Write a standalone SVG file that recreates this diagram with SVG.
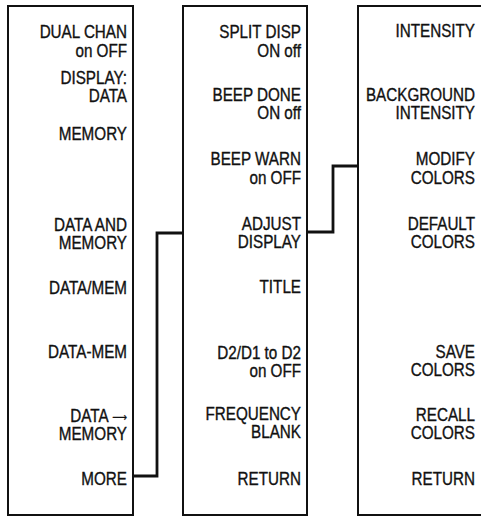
<svg xmlns="http://www.w3.org/2000/svg" width="481" height="518" viewBox="0 0 481 518">
<style>
.panel{fill:#fff;stroke:#111;stroke-width:2}
.lbl{font-family:"Liberation Sans",Arial,sans-serif;font-size:17.5px;fill:#111;stroke:#111;stroke-width:0.35;text-anchor:end}
.arr{font-family:"DejaVu Sans",sans-serif;font-size:12px;stroke-width:0.2}
.conn{fill:none;stroke:#111;stroke-width:2.8;stroke-linejoin:miter}
</style>
<rect x="0" y="0" width="481" height="518" fill="#fff"/>
<g id="panel-main">
<rect class="panel" x="8" y="6" width="125" height="509"/>
<g class="lbl" transform="translate(127,0) scale(0.87,1)">
<text x="0" y="38">DUAL CHAN</text>
<text x="0" y="57">on OFF</text>
<text x="0" y="84">DISPLAY:</text>
<text x="0" y="102">DATA</text>
<text x="0" y="140">MEMORY</text>
<text x="0" y="231">DATA AND</text>
<text x="0" y="249">MEMORY</text>
<text x="0" y="294">DATA/MEM</text>
<text x="0" y="358">DATA-MEM</text>
<text x="0" y="422">DATA <tspan class="arr" dy="-1">⟶</tspan></text>
<text x="0" y="440">MEMORY</text>
<text x="0" y="485">MORE</text>
</g>
</g>
<g id="panel-more">
<rect class="panel" x="183" y="6" width="124" height="509"/>
<g class="lbl" transform="translate(301,0) scale(0.87,1)">
<text x="0" y="38">SPLIT DISP</text>
<text x="0" y="57">ON off</text>
<text x="0" y="101">BEEP DONE</text>
<text x="0" y="119">ON off</text>
<text x="0" y="165">BEEP WARN</text>
<text x="0" y="184">on OFF</text>
<text x="0" y="230">ADJUST</text>
<text x="0" y="248">DISPLAY</text>
<text x="0" y="293">TITLE</text>
<text x="0" y="359">D2/D1 to D2</text>
<text x="0" y="377">on OFF</text>
<text x="0" y="420">FREQUENCY</text>
<text x="0" y="438">BLANK</text>
<text x="0" y="485">RETURN</text>
</g>
</g>
<g id="panel-adjust">
<rect class="panel" x="358" y="6" width="130" height="509"/>
<g class="lbl" transform="translate(475,0) scale(0.87,1)">
<text x="0" y="37">INTENSITY</text>
<text x="0" y="101">BACKGROUND</text>
<text x="0" y="119">INTENSITY</text>
<text x="0" y="165">MODIFY</text>
<text x="0" y="184">COLORS</text>
<text x="0" y="230">DEFAULT</text>
<text x="0" y="248">COLORS</text>
<text x="0" y="358">SAVE</text>
<text x="0" y="376">COLORS</text>
<text x="0" y="421">RECALL</text>
<text x="0" y="439">COLORS</text>
<text x="0" y="485">RETURN</text>
</g>
</g>
<g id="connectors">
<path class="conn" d="M133,476 H157 V233 H183"/>
<path class="conn" d="M307,232 H333 V166 H358"/>
</g>
</svg>
